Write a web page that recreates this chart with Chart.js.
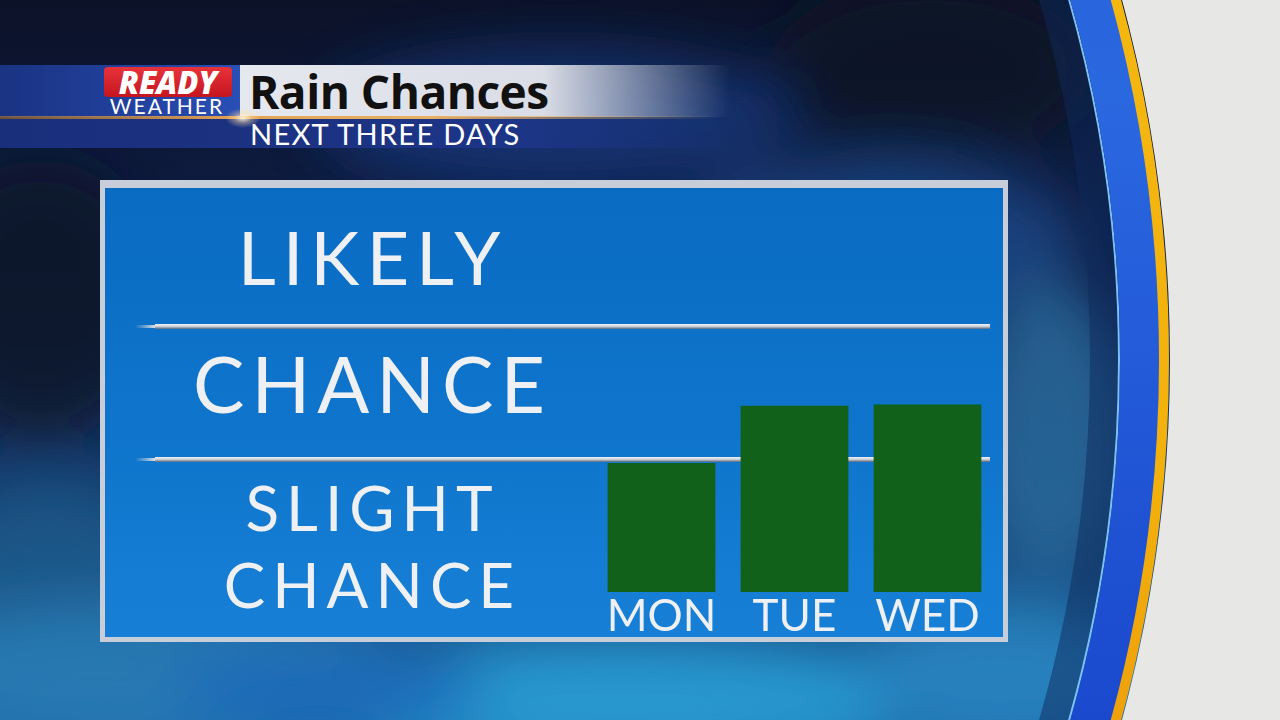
<!DOCTYPE html>
<html>
<head>
<meta charset="utf-8">
<script src="https://cdn.jsdelivr.net/npm/chart.js@4.4.1/dist/chart.umd.min.js"></script>
<style>
  html, body { margin: 0; padding: 0; }
  body { width: 1280px; height: 720px; overflow: hidden; position: relative; background: #0c1a3a; font-family: Lato, "Open Sans", sans-serif; }
  #bg { position: absolute; left: 0; top: 0; }
  .abs { position: absolute; }
  #topband { left: 0; top: 65px; width: 245px; height: 52px; background: linear-gradient(to right, #1a3382, #2445a6 70%, #2a50b6); }
  #titlebg { left: 240px; top: 65px; width: 490px; height: 52px; background: linear-gradient(to right, #e6e8ef 0%, #dadde6 62%, rgba(190,198,218,0) 100%); }
  #rule { left: 0; top: 116px; width: 720px; height: 3px; background: linear-gradient(to right, rgba(210,140,60,.5), #e2a252 33%, #e6b065 60%, rgba(230,170,90,0)); }
  #glow { left: 225px; top: 108px; width: 36px; height: 20px; background: radial-gradient(ellipse at center, rgba(255,245,220,.95) 0%, rgba(255,220,160,.4) 35%, rgba(255,200,120,0) 70%); }
  #subband { left: 0; top: 119px; width: 730px; height: 29px; background: linear-gradient(to right, #1a2f7c, #1d3587 70%, rgba(29,53,135,0)); }
  #ready { left: 104px; top: 67px; width: 128px; height: 30px; background: linear-gradient(#e8323a, #c4161f); border-radius: 4px; color: #fff; font: italic 900 31px "Open Sans", Lato, sans-serif; line-height: 30px; text-align: center; }
  #weather { left: 106px; top: 95px; width: 122px; text-align: center; color: #fff; font: 400 21px Lato, sans-serif; letter-spacing: 2px; line-height: 22px; }
  #title { left: 249px; top: 61px; color: #111; font: 700 46px "Open Sans", sans-serif; line-height: 60px; letter-spacing: -0.5px; }
  #subtitle { left: 250px; top: 118px; color: #fff; font: 400 29px Lato, sans-serif; line-height: 32px; letter-spacing: 1.3px; }
  #panel { left: 100px; top: 180px; width: 908px; height: 462px; box-sizing: border-box; border-style: solid; border-color: #c7ced9; border-width: 8px 5px 5px 5px;
    background: linear-gradient(180deg, #0a6bc3 0%, #0f75cc 55%, #1780d6 100%); }
  #chartWrap { left: 100px; top: 180px; width: 908px; height: 470px; }
</style>
</head>
<body>
<svg id="bg" width="1280" height="720" viewBox="0 0 1280 720">
  <defs>
    <linearGradient id="sky" x1="0" y1="0" x2="0" y2="1">
      <stop offset="0" stop-color="#0c1228"/>
      <stop offset="0.45" stop-color="#0f2250"/>
      <stop offset="0.72" stop-color="#153f72"/>
      <stop offset="1" stop-color="#1c6aa6"/>
    </linearGradient>
    <filter id="blur" x="-50%" y="-50%" width="200%" height="200%"><feGaussianBlur stdDeviation="28"/></filter>
    <linearGradient id="gold" x1="0" y1="0" x2="0" y2="1">
      <stop offset="0" stop-color="#f7c61a"/>
      <stop offset="0.55" stop-color="#f2b00c"/>
      <stop offset="0.75" stop-color="#e88a0a"/>
      <stop offset="1" stop-color="#f5c21a"/>
    </linearGradient>
    <linearGradient id="band" x1="0" y1="0" x2="0" y2="1">
      <stop offset="0" stop-color="#1a44c0"/>
      <stop offset="0.4" stop-color="#2a68e0"/>
      <stop offset="0.7" stop-color="#1640c8"/>
      <stop offset="1" stop-color="#2a5ad8"/>
    </linearGradient>
  </defs>
  <rect width="1280" height="720" fill="url(#sky)"/>
  <g filter="url(#blur)" opacity="0.8">
    <ellipse cx="560" cy="120" rx="240" ry="70" fill="#17377c"/>
    <ellipse cx="930" cy="70" rx="160" ry="90" fill="#0e1228"/>
    <ellipse cx="880" cy="240" rx="200" ry="80" fill="#1b4a8a"/>
    <ellipse cx="40" cy="300" rx="120" ry="140" fill="#0c1226"/>
    <ellipse cx="50" cy="570" rx="110" ry="90" fill="#1d5a8a"/>
    <ellipse cx="150" cy="670" rx="260" ry="70" fill="#2b7fb8"/>
    <ellipse cx="620" cy="700" rx="300" ry="60" fill="#2aa4da"/>
    <ellipse cx="330" cy="690" rx="160" ry="40" fill="#1a6cc0"/>
    <ellipse cx="1050" cy="430" rx="80" ry="150" fill="#2b6d9f"/>
    <ellipse cx="1000" cy="670" rx="140" ry="70" fill="#2a88c4"/>
  </g>
  <circle cx="-204" cy="360" r="1308" fill="none" stroke="#0d2a5c" stroke-opacity="0.5" stroke-width="28"/>
  <circle cx="-204" cy="360" r="1323" fill="none" stroke="#7cc0f5" stroke-width="2"/>
  <circle cx="-204" cy="360" r="1344" fill="none" stroke="url(#band)" stroke-width="40"/>
  <circle cx="-204" cy="360" r="1368" fill="none" stroke="url(#gold)" stroke-width="10"/>
  <path fill-rule="evenodd" fill="#e7e7e6" d="M0 0H1280V720H0Z M-1578 360 a1374 1374 0 1 0 2748 0 a1374 1374 0 1 0 -2748 0Z"/>
</svg>

<div id="topband" class="abs"></div>
<div id="titlebg" class="abs"></div>
<div id="subband" class="abs"></div>
<div id="rule" class="abs"></div>
<div id="glow" class="abs"></div>
<div id="ready" class="abs">READY</div>
<div id="weather" class="abs">WEATHER</div>
<div id="title" class="abs">Rain Chances</div>
<div id="subtitle" class="abs">NEXT THREE DAYS</div>
<div id="panel" class="abs"></div>
<div id="chartWrap" class="abs"><canvas id="rainChart" width="908" height="470"></canvas></div>

<script>
// rain chance per day, on a 0-3 scale (0-1 slight chance, 1-2 chance, 2-3 likely)
const days = ['MON', 'TUE', 'WED'];
const rainLevel = [0.97, 1.40, 1.41];
const levelNames = [['SLIGHT', 'CHANCE'], 'CHANCE', 'LIKELY'];
const levelTickValues = [0.32, 1.53, 2.49];
const levelDividers = [1, 2];

const textColor = '#eef0f3';

// silver divider lines between the levels, drawn under the bars
const dividerPlugin = {
    id: 'dividers',
    beforeDatasetsDraw(chart) {
        const {ctx, chartArea, scales: {y}} = chart;
        ctx.letterSpacing = '0px';
        const x0 = y.left - 5;
        const x1 = chartArea.right - 4;
        ctx.save();
        levelDividers.forEach(v => {
            const py = Math.round(y.getPixelForValue(v));
            const g = ctx.createLinearGradient(0, py - 2, 0, py + 3);
            g.addColorStop(0, '#f1f3f5');
            g.addColorStop(0.5, '#c9ced4');
            g.addColorStop(1, '#56657c');
            ctx.fillStyle = g;
            ctx.fillRect(x0 + 20, py - 2, x1 - x0 - 20, 5);
            const f = ctx.createLinearGradient(x0, 0, x0 + 20, 0);
            f.addColorStop(0, 'rgba(200,205,212,0)');
            f.addColorStop(1, 'rgba(220,224,230,1)');
            ctx.fillStyle = f;
            ctx.fillRect(x0, py - 1, 20, 3);
        });
        ctx.restore();
    }
};

// wide tracking for the level labels on the left (y labels draw before the datasets,
// x labels after them with ticks.z = 1)
const trackingPlugin = {
    id: 'tracking',
    beforeUpdate(chart) { chart.ctx.letterSpacing = '7px'; },
    afterUpdate(chart) { chart.ctx.letterSpacing = '0px'; },
    beforeDraw(chart) { chart.ctx.letterSpacing = '7px'; }
};

const ctx = document.getElementById('rainChart').getContext('2d');
new Chart(ctx, {
    type: 'bar',
    data: {
        labels: days,
        datasets: [{
            data: rainLevel,
            backgroundColor: '#11611a',
            borderWidth: 0,
            barPercentage: 0.81,
            categoryPercentage: 1
        }]
    },
    options: {
        responsive: false,
        animation: false,
        layout: { padding: { left: 40, right: 14, top: 13, bottom: 0 } },
        plugins: { legend: { display: false }, tooltip: { enabled: false } },
        scales: {
            x: {
                grid: { display: false },
                border: { display: false },
                ticks: {
                    z: 1,
                    color: textColor,
                    padding: -5,
                    autoSkip: false,
                    maxRotation: 0,
                    minRotation: 0,
                    font: { family: 'Lato', size: 44, lineHeight: 1 }
                },
                afterFit: scale => {
                    scale.height = 58;
                    scale.paddingLeft = 0;
                    scale.paddingRight = 0;
                }
            },
            y: {
                min: 0,
                max: 3,
                grid: { display: false },
                border: { display: false },
                afterBuildTicks: scale => {
                    scale.ticks = levelTickValues.map(v => ({ value: v }));
                },
                ticks: {
                    color: textColor,
                    crossAlign: 'center',
                    padding: 35,
                    font: c => {
                        const v = c.tick ? c.tick.value : 2;
                        return {
                            family: 'Lato',
                            size: v < 1 ? 62 : (v < 2 ? 77 : 74),
                            lineHeight: 1.23
                        };
                    },
                    callback: value => levelNames[Math.floor(value)]
                },
                afterFit: scale => {
                    scale.width = 455;
                    scale.paddingTop = 0;
                    scale.paddingBottom = 0;
                }
            }
        }
    },
    plugins: [trackingPlugin, dividerPlugin]
});
</script>
</body>
</html>
